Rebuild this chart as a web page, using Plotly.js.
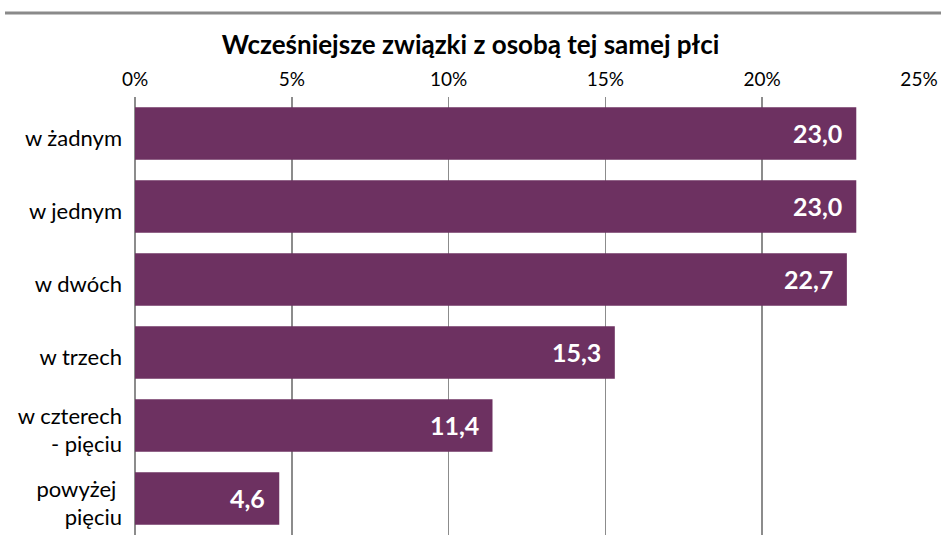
<!DOCTYPE html>
<html>
<head>
<meta charset="utf-8">
<script src="https://cdn.plot.ly/plotly-3.0.1.min.js"></script>
<style>html,body{margin:0;padding:0;background:#fff;}#chart{width:941px;height:553px;}</style>
</head>
<body>
<div id="chart"></div>
<script>
const categories = ["w żadnym", "w jednym", "w dwóch", "w trzech", "w czterech<br>- pięciu", "powyżej <br>pięciu"];
const values = [23.0, 23.0, 22.7, 15.3, 11.4, 4.6];
const tickValues = [0, 5, 10, 15, 20, 25];
const tickLabels = ["0%", "5%", "10%", "15%", "20%", "25%"];
const chartTitle = "Wcześniejsze związki z osobą tej samej płci";

const barColor = "#6d3161";
const gridColor = "#8c8c8c";
const font = "Lato, 'DejaVu Sans', sans-serif";

const trace = {
  type: "bar",
  orientation: "h",
  y: categories,
  x: values,
  marker: {color: barColor},
  hoverinfo: "skip"
};

const annotations = values.map((v, i) => ({
  x: v, y: categories[i], xref: "x", yref: "y",
  text: v.toFixed(1).replace(".", ","),
  showarrow: false, xanchor: "right", xshift: -12, yshift: 1,
  font: {family: font, size: 25, color: "#ffffff", weight: "bold"}
}));

const layout = {
  width: 941, height: 553,
  margin: {l: 135, r: 22, t: 97, b: 18},
  paper_bgcolor: "#fff", plot_bgcolor: "#fff",
  showlegend: false,
  bargap: 0.28,
  separators: ", ",
  title: {text: "<b>" + chartTitle + "</b>", x: 0.5, xref: "container", xanchor: "center",
          y: 1 - 45/553, yref: "container", yanchor: "middle",
          font: {family: font, size: 26, color: "#000"}},
  xaxis: {
    side: "top", range: [0, 25], tickmode: "array", tickvals: tickValues, ticktext: tickLabels,
    showgrid: true, gridcolor: gridColor, gridwidth: 1.5,
    zeroline: true, zerolinecolor: gridColor, zerolinewidth: 1.5,
    showline: false, ticks: "", ticklabelstandoff: 6,
    tickfont: {family: font, size: 19, color: "#000"}, fixedrange: true
  },
  yaxis: {
    autorange: "reversed", showgrid: false, zeroline: false, showline: false,
    ticks: "", ticklabelstandoff: 12, ticklabelshift: -5,
    tickfont: {family: font, size: 22, color: "#000"}, fixedrange: true
  },
  annotations: annotations,
  shapes: [{
    type: "line", xref: "paper", yref: "paper",
    x0: (5 - 135) / 784, x1: (941 - 135) / 784,
    y0: (535 - 13) / 438, y1: (535 - 13) / 438,
    line: {color: "#8a8a8a", width: 3}
  }]
};

Plotly.newPlot("chart", [trace], layout, {displayModeBar: false, staticPlot: true});
</script>
</body>
</html>
